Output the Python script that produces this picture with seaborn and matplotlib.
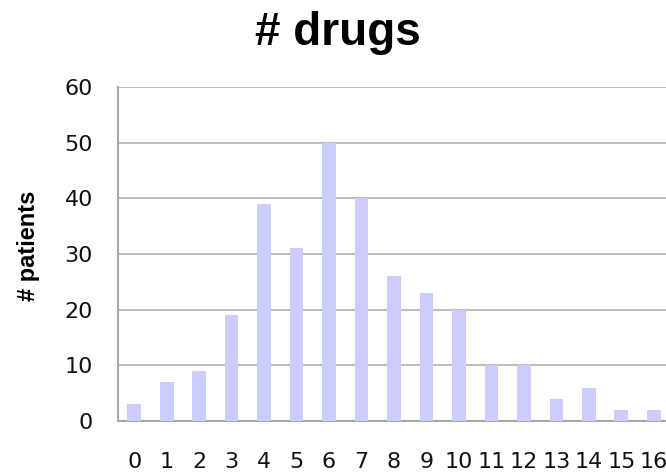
import matplotlib
matplotlib.use("Agg")
import matplotlib.pyplot as plt
import seaborn as sns
import pandas as pd

num_drugs = [str(i) for i in range(17)]
num_patients = [3, 7, 9, 19, 39, 31, 50, 40, 26, 23, 20, 10, 10, 4, 6, 2, 2]
y_ticks = [0, 10, 20, 30, 40, 50, 60]

df = pd.DataFrame({"drugs": num_drugs, "patients": num_patients})

sns.set_theme(style="white")
plt.rcParams['font.family'] = ['DejaVu Sans']
plt.rcParams['text.color'] = '#000000'

fig = plt.figure(figsize=(6.66, 4.72), dpi=100)
ax = fig.add_axes([118/666, 51/472, 552/666, 334/472])

sns.barplot(data=df, x="drugs", y="patients", color="#ccccff", saturation=1,
            width=0.42, ax=ax, zorder=3, edgecolor="none")

ax.set_ylim(0, 60)
ax.set_xlim(-0.5, 16.5)
ax.set_yticks(y_ticks)
ax.yaxis.grid(True, color="#bdbdbd", linewidth=1.5, zorder=0)
ax.xaxis.grid(False)
ax.set_axisbelow(True)
for s in ["top", "right"]:
    ax.spines[s].set_visible(False)
ax.spines["left"].set_color("#a8a8a8")
ax.spines["left"].set_linewidth(1.5)
ax.spines["bottom"].set_color("#a8a8a8")
ax.spines["bottom"].set_linewidth(1.5)

ax.tick_params(axis="x", length=0, pad=22, labelsize=16, colors="#111111")
ax.tick_params(axis="y", length=0, pad=18, labelsize=16, colors="#111111")
ax.set_xlabel("")
ax.set_ylabel("")

fig.text(29/666, 1 - 246/472, "# patients", ha="center", va="center", rotation=90,
         fontsize=17, fontweight="bold", family=["Liberation Sans", "DejaVu Sans"])

fig.text(338/666, 1 - 45/472, "# drugs", ha="center", va="baseline",
         fontsize=33, fontweight="bold", family=["Liberation Sans", "DejaVu Sans"])

fig.savefig("out.png", dpi=100)
